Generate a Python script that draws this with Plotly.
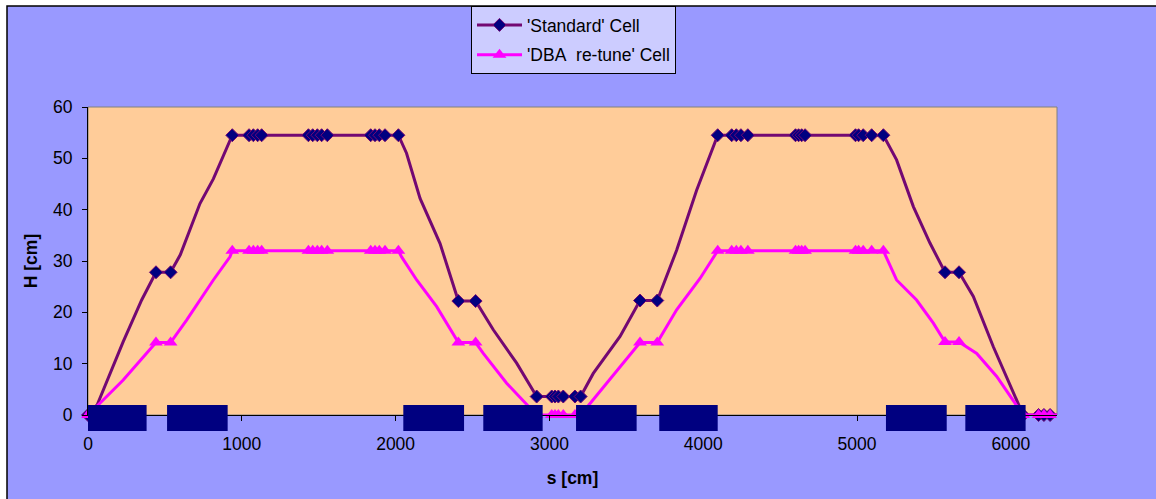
import plotly.graph_objects as go

# ---------------- data ----------------
std_s = [0, 60, 229, 349, 442, 537, 600, 728, 815, 880,
         938, 1047, 1075, 1103, 1129, 1433, 1461, 1491, 1519, 1556, 1838, 1866, 1894, 1931, 2018,
         2071, 2159, 2289, 2386, 2408, 2520, 2635, 2787,
         2917, 3015, 3036, 3058, 3090, 3166, 3203,
         3285, 3459, 3589, 3701, 3827, 3957,
         4094, 4185, 4215, 4245, 4290, 4600, 4620, 4640, 4662, 4990, 5010, 5040, 5095, 5171,
         5257, 5366, 5474, 5572, 5663, 5756, 5886, 6055, 6080, 6180, 6215, 6255, 6336]
std_H = [0, 2.0, 14.3, 22.4, 27.8, 27.8, 31.2, 41.2, 46.0, 50.6,
         54.5, 54.5, 54.5, 54.5, 54.5, 54.5, 54.5, 54.5, 54.5, 54.5, 54.5, 54.5, 54.5, 54.5, 54.5,
         51.0, 42.2, 33.4, 24.4, 22.2, 22.2, 16.6, 10.1,
         3.6, 3.6, 3.6, 3.6, 3.6, 3.6, 3.6,
         8.1, 15.3, 22.3, 22.3, 32.1, 43.8,
         54.5, 54.5, 54.5, 54.5, 54.5, 54.5, 54.5, 54.5, 54.5, 54.5, 54.5, 54.5, 54.5, 54.5,
         49.7, 40.6, 33.5, 27.8, 27.8, 23.1, 13.3, 1.6, 0, 0, 0, 0, 0]
std_mark = [1, 0, 0, 0, 1, 1, 0, 0, 0, 0,
            1, 1, 1, 1, 1, 1, 1, 1, 1, 1, 1, 1, 1, 1, 1,
            0, 0, 0, 0, 1, 1, 0, 0,
            1, 1, 1, 1, 1, 1, 1,
            0, 0, 1, 1, 0, 0,
            1, 1, 1, 1, 1, 1, 1, 1, 1, 1, 1, 1, 1, 1,
            0, 0, 0, 1, 1, 0, 0, 0, 1, 1, 1, 1, 0]

dba_s = [0, 229, 442, 537, 641, 771, 815, 923,
         938, 1047, 1075, 1103, 1129, 1433, 1461, 1491, 1519, 1556, 1838, 1866, 1894, 1931, 2018,
         2039, 2137, 2267, 2408, 2520, 2570, 2722,
         2917, 3015, 3036, 3058, 3090, 3166, 3203,
         3589, 3701, 3827, 3979,
         4094, 4185, 4215, 4245, 4290, 4600, 4620, 4640, 4662, 4990, 5010, 5040, 5095, 5171,
         5257, 5387, 5496, 5572, 5663, 5778, 5908, 6038, 6080, 6180, 6215, 6255, 6336]
dba_H = [0, 6.8, 14.1, 14.1, 18.5, 24.4, 26.3, 30.8,
         32.0, 32.0, 32.0, 32.0, 32.0, 32.0, 32.0, 32.0, 32.0, 32.0, 32.0, 32.0, 32.0, 32.0, 32.0,
         30.8, 26.3, 21.1, 14.1, 14.1, 12.0, 6.2,
         0, 0, 0, 0, 0, 0, 0,
         14.1, 14.1, 20.5, 26.6,
         32.0, 32.0, 32.0, 32.0, 32.0, 32.0, 32.0, 32.0, 32.0, 32.0, 32.0, 32.0, 32.0, 32.0,
         26.3, 22.4, 17.9, 14.2, 14.2, 12.0, 7.5, 1.9, 0, 0, 0, 0, 0]
dba_mark = [1, 0, 1, 1, 0, 0, 0, 0,
            1, 1, 1, 1, 1, 1, 1, 1, 1, 1, 1, 1, 1, 1, 1,
            0, 0, 0, 1, 1, 0, 0,
            1, 1, 1, 1, 1, 1, 1,
            1, 1, 0, 0,
            1, 1, 1, 1, 1, 1, 1, 1, 1, 1, 1, 1, 1, 1,
            0, 0, 0, 1, 1, 0, 0, 0, 1, 1, 1, 1, 0]

# magnet blocks along s [cm]
magnet_start = [0, 514, 2050, 2570, 3173, 3714, 5188, 5704]
magnet_end = [381, 908, 2445, 2956, 3567, 4094, 5583, 6096]

x_ticks = [0, 1000, 2000, 3000, 4000, 5000, 6000]
y_ticks = [0, 10, 20, 30, 40, 50, 60]

series_names = ["'Standard' Cell", "'DBA\u00a0 re-tune' Cell"]

# ---------------- styling ----------------
FONT = "Liberation Sans, Arial, sans-serif"
FS = 17.5
PURPLE = "#730873"
NAVY = "#000080"
MAGENTA = "#FF00FF"

W, H = 1156, 499
L, R, T, B = 88, 99, 107, 84
PW, PH = W - L - R, H - T - B


def px_x(px):
    return (px - L) / PW


def px_y(py):
    return (H - B - py) / PH


fig = go.Figure()

series = [
    (series_names[0], std_s, std_H, std_mark, PURPLE,
     dict(symbol="diamond", size=10, color=NAVY, line=dict(color=PURPLE, width=1))),
    (series_names[1], dba_s, dba_H, dba_mark, MAGENTA,
     dict(symbol="triangle-up", size=12, color=MAGENTA, line=dict(color=MAGENTA, width=0))),
]

for name, xs, ys, mk, col, mstyle in series:
    fig.add_trace(go.Scatter(x=xs, y=ys, mode="lines", line=dict(color=col, width=3),
                             showlegend=False, legendgroup=name, hoverinfo="skip"))
    mx = [x for x, m in zip(xs, mk) if m]
    my = [y for y, m in zip(ys, mk) if m]
    fig.add_trace(go.Scatter(x=mx, y=my, mode="markers", marker=mstyle, cliponaxis=False,
                             showlegend=False, legendgroup=name))
    fig.add_trace(go.Scatter(x=[None], y=[None], mode="lines+markers", name=name,
                             line=dict(color=col, width=3), marker=mstyle, legendgroup=name))

shapes = [
    # chart area background with black frame
    dict(type="rect", xref="paper", yref="paper", layer="below",
         x0=px_x(7), x1=px_x(1170), y0=px_y(510), y1=px_y(6),
         fillcolor="#9999FF", line=dict(color="black", width=1.5)),
    # plot area
    dict(type="rect", xref="paper", yref="paper", layer="below",
         x0=0, x1=1, y0=0, y1=1, fillcolor="#FFCC99", line=dict(color="#808080", width=1)),
]
for s0, s1 in zip(magnet_start, magnet_end):
    shapes.append(dict(type="rect", xref="x", yref="paper", layer="above",
                       x0=s0, x1=s1, y0=px_y(431), y1=px_y(405),
                       fillcolor=NAVY, line=dict(width=0)))

axis_common = dict(showgrid=False, zeroline=False, showline=True, linecolor="black", linewidth=1,
                   ticks="outside", ticklen=5, tickcolor="black", tickwidth=1,
                   tickfont=dict(family=FONT, size=FS, color="black"))

fig.update_layout(
    width=W, height=H,
    margin=dict(l=L, r=R, t=T, b=B, pad=0, autoexpand=False),
    paper_bgcolor="white", plot_bgcolor="#FFCC99",
    font=dict(family=FONT, size=FS, color="black"),
    shapes=shapes,
    xaxis=dict(range=[0, 6300], tickvals=x_ticks, ticktext=[str(v) for v in x_ticks],
               title=dict(text="<b>s [cm]</b>", font=dict(family=FONT, size=FS), standoff=18),
               ticklabelstandoff=8, **axis_common),
    yaxis=dict(range=[0, 60], tickvals=y_ticks, ticktext=[str(v) for v in y_ticks],
               title=dict(text="<b>H [cm]</b>", font=dict(family=FONT, size=FS), standoff=10),
               ticklabelstandoff=6, **axis_common),
    legend=dict(x=px_x(471), y=px_y(6), xanchor="left", yanchor="top",
                bgcolor="#CCCCFF", bordercolor="black", borderwidth=1,
                font=dict(family=FONT, size=FS, color="black"),
                tracegroupgap=4, itemwidth=45, traceorder="grouped"),
    showlegend=True,
)

fig.write_html("out.html")
